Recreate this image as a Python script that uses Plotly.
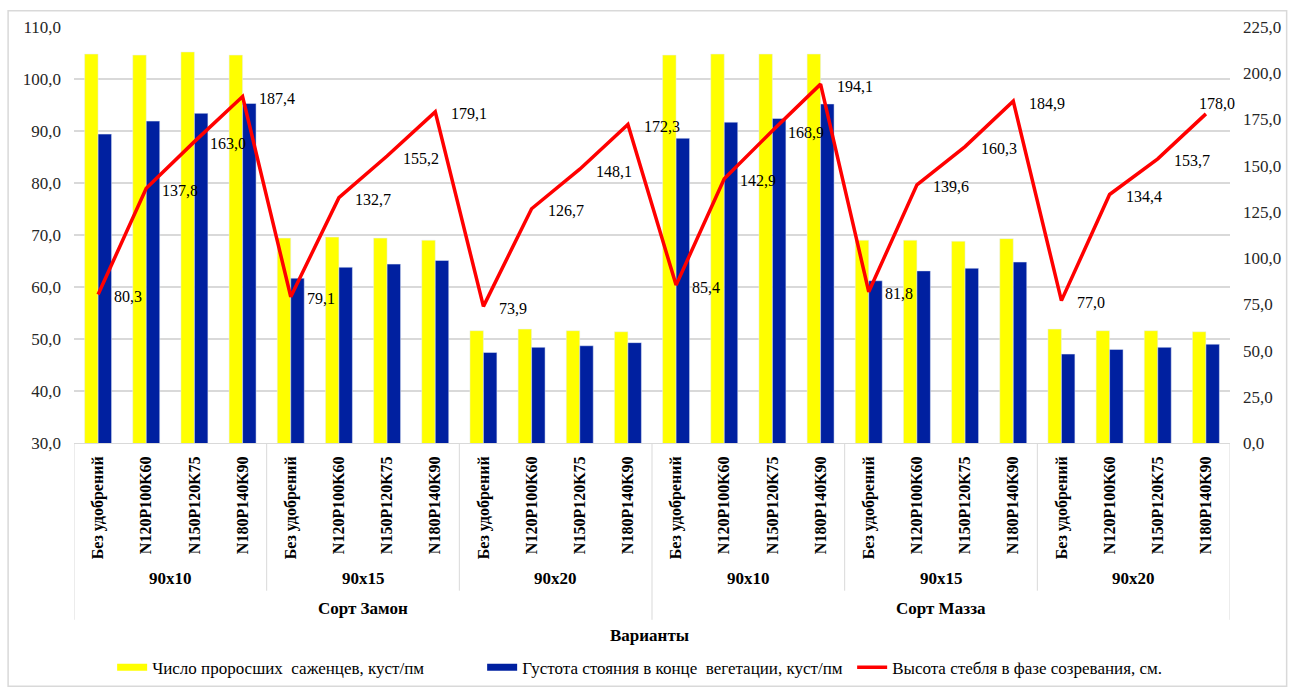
import plotly.graph_objects as go

# ---------------- data ----------------
sorts = ["Сорт Замон", "Сорт Мазза"]
spacings = ["90x10", "90x15", "90x20"]
variants = ["Без удобрений", "N120P100K60", "N150P120K75", "N180P140K90"]

seedlings = [104.8, 104.6, 105.2, 104.6, 69.4, 69.6, 69.4, 69.0, 51.6, 51.9, 51.6, 51.4,
             104.6, 104.8, 104.8, 104.8, 69.0, 69.0, 68.8, 69.3, 51.9, 51.6, 51.6, 51.4]
density = [89.4, 91.9, 93.4, 95.3, 61.7, 63.8, 64.4, 65.1, 47.4, 48.4, 48.7, 49.3,
           88.6, 91.7, 92.4, 95.2, 61.2, 63.1, 63.6, 64.8, 47.1, 48.0, 48.4, 49.0]
height = [80.3, 137.8, 163.0, 187.4, 79.1, 132.7, 155.2, 179.1, 73.9, 126.7, 148.1, 172.3,
          85.4, 142.9, 168.9, 194.1, 81.8, 139.6, 160.3, 184.9, 77.0, 134.4, 153.7, 178.0]

names = ["Число проросших \u00a0саженцев, куст/пм",
         "Густота стояния в конце \u00a0вегетации, куст/пм",
         "Высота стебля в фазе созревания, см."]

FONT = "Liberation Serif, DejaVu Serif, Times New Roman, serif"
YELLOW = "#ffff00"
BLUE = "#0020a0"
RED = "#ff0000"

n = len(seedlings)
x = list(range(n))
tick_text = [variants[i % len(variants)] for i in range(n)]

fig = go.Figure()
fig.add_trace(go.Bar(x=x, y=seedlings, marker_color=YELLOW, name=names[0],
                     legendgroup="a", showlegend=False))
fig.add_trace(go.Bar(x=x, y=density, marker_color=BLUE, name=names[1],
                     legendgroup="b", showlegend=False))
fig.add_trace(go.Scatter(x=x, y=height, yaxis="y2", mode="lines",
                         line=dict(color=RED, width=3.5), name=names[2],
                         legendgroup="c", showlegend=False))
# legend entries (wide swatches like the original)
fig.add_trace(go.Scatter(x=[None], y=[None], mode="lines", name=names[0],
                         line=dict(color=YELLOW, width=7), legendgroup="a"))
fig.add_trace(go.Scatter(x=[None], y=[None], mode="lines", name=names[1],
                         line=dict(color=BLUE, width=7), legendgroup="b"))
fig.add_trace(go.Scatter(x=[None], y=[None], mode="lines", name=names[2],
                         line=dict(color=RED, width=3.5), legendgroup="c"))

annotations = []
# data labels for the line
for i, v in enumerate(height):
    last = i == n - 1
    annotations.append(dict(x=i, y=v, xref="x", yref="y2", text=f"{v:.1f}".replace(".", ","),
                            showarrow=False, xanchor="center" if last else "left",
                            yanchor="middle",
                            xshift=11 if last else 14, yshift=10 if last else -2,
                            font=dict(family=FONT, size=16, color="#000000")))

# group annotations and divider lines
shapes = []
per_spacing = len(variants)
per_sort = per_spacing * len(spacings)
for si, s in enumerate(sorts):
    start = si * per_sort
    annotations.append(dict(x=start + (per_sort - 1) / 2, y=-0.399, xref="x", yref="paper",
                            yanchor="middle", text=f"<b>{s}</b>", showarrow=False,
                            font=dict(family=FONT, size=17, color="#000000")))
    for pi, p in enumerate(spacings):
        st = start + pi * per_spacing
        annotations.append(dict(x=st + (per_spacing - 1) / 2, y=-0.325, xref="x", yref="paper",
                                yanchor="middle", text=f"<b>{p}</b>", showarrow=False,
                                font=dict(family=FONT, size=17, color="#000000")))
        if pi > 0:
            shapes.append(dict(type="line", xref="x", yref="paper", x0=st - 0.5, x1=st - 0.5,
                               y0=0, y1=-0.355, line=dict(color="#d9d9d9", width=1)))
for k in range(len(sorts) + 1):
    xb = k * per_sort - 0.5
    shapes.append(dict(type="line", xref="x", yref="paper", x0=xb, x1=xb,
                       y0=0, y1=-0.425, line=dict(color="#d9d9d9", width=1)))
annotations.append(dict(x=0.498, y=-0.462, xref="paper", yref="paper", yanchor="middle",
                        text="<b>Варианты</b>",
                        showarrow=False, font=dict(family=FONT, size=17, color="#000000")))
# outer chart border
shapes.append(dict(type="rect", xref="paper", yref="paper", x0=-0.057, x1=1.049, y0=-0.585, y1=1.039,
                   line=dict(color="#d9d9d9", width=1.5), fillcolor="rgba(0,0,0,0)", layer="below"))

fig.update_layout(
    width=1295, height=689,
    margin=dict(l=74, r=65, t=27, b=246, autoexpand=False),
    plot_bgcolor="white", paper_bgcolor="white",
    separators=", ",
    barmode="group", bargap=0.44, bargroupgap=0,
    font=dict(family=FONT, size=16, color="#262626"),
    xaxis=dict(range=[-0.5, n - 0.5], tickmode="array", tickvals=x,
               ticktext=[f"<b>{t}</b>" for t in tick_text],
               tickangle=-90, showgrid=False, showline=True, linecolor="#d9d9d9", ticks="",
               ticklabelstandoff=6, automargin=False,
               tickfont=dict(family=FONT, size=16, color="#000000"), zeroline=False),
    yaxis=dict(range=[30, 110], dtick=10, tickformat=".1f", showgrid=True, gridcolor="#d9d9d9",
               gridwidth=1.5, zeroline=False, showline=False, ticks="", ticklabelstandoff=12,
               automargin=False,
               tickfont=dict(family=FONT, size=17, color="#262626")),
    yaxis2=dict(range=[0, 225], dtick=25, tickformat=".1f", overlaying="y", side="right",
                showgrid=False, zeroline=False, showline=False, ticks="", ticklabelstandoff=12,
                automargin=False,
                tickfont=dict(family=FONT, size=17, color="#262626")),
    legend=dict(orientation="h", x=0.033, xanchor="left", y=-0.54, yanchor="middle",
                font=dict(family=FONT, size=17, color="#000000"), itemwidth=30,
                entrywidth=325, entrywidthmode="pixels",
                bgcolor="rgba(0,0,0,0)"),
    shapes=shapes, annotations=annotations,
)

fig.write_html("out.html")
